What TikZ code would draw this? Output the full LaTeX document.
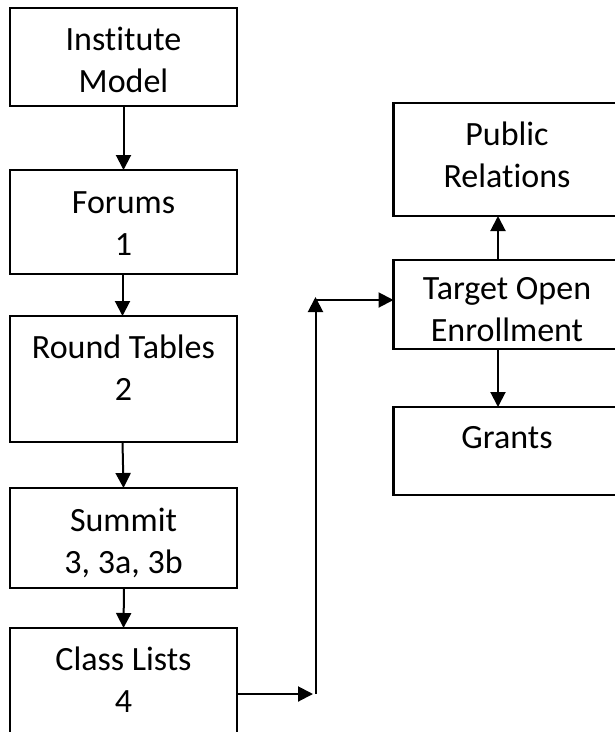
\documentclass[tikz,border=0pt]{standalone}
\usepackage{fontspec}
\setmainfont{Carlito}[Ligatures={NoCommon}]
\usetikzlibrary{arrows.meta}
\begin{document}
\begin{tikzpicture}[x=1pt,y=-1pt,
  box/.style={draw,line width=2.5pt,minimum width=227pt,inner sep=0pt,outer sep=0pt},
  lbl/.style={font=\fontsize{34}{42}\selectfont,align=center,inner sep=0pt,anchor=base},
  arr/.style={line width=2pt,-{Triangle[length=15pt,width=15pt]}}]
\useasboundingbox (0,0) rectangle (615,732);

% left column
\node[box,minimum height=98pt]  (inst)   at (123.5,57)  {};
\node[box,minimum height=104pt] (forums) at (123.5,222) {};
\node[box,minimum height=126pt] (round)  at (123.5,379) {};
\node[box,minimum height=100pt] (summit) at (123.5,538) {};
\node[box,minimum height=132pt] (class)  at (123.5,694) {};

% labels are placed by the baseline of their last line
\node[lbl] (instT)   at (123.5,92)  {Institute\\Model};
\node[lbl] (forumsT) at (123.5,255) {Forums\\1};
\node[lbl] (roundT)  at (123.5,400) {Round Tables\\2};
\node[lbl] (summitT) at (123.5,573) {Summit\\3, 3a, 3b};
\node[lbl] (classT)  at (123.5,712) {Class Lists\\4};

% right column
\node[box,minimum height=113pt] (pr)     at (507,159.5) {};
\node[box,minimum height=89pt]  (target) at (507,304.5) {};
\node[box,minimum height=88pt]  (grants) at (507,451)   {};

\node[lbl] (prT)     at (507,187) {Public\\Relations};
\node[lbl] (targetT) at (507,341) {Target Open\\Enrollment};
\node[lbl] (grantsT) at (507,448) {Grants};

% flow down the left column
\draw[arr] (inst.south)   -- (forums.north);
\draw[arr] ([xshift=-1pt]forums.south) -- ([xshift=-1pt]round.north);
\draw[arr] ([xshift=-1pt]round.south)  -- (summit.north);
\draw[arr] ([xshift=0.5pt]summit.south) -- (class.north);

% link to the right column
\coordinate (elbowIn) at (313,694);
\coordinate (riseBot) at (315.5,694);
\coordinate (riseTop) at (315.5,297);
\coordinate (turn)    at (315.5,300);
\draw[arr] (class.east |- elbowIn) -- (elbowIn);
\draw[arr] (riseBot) -- (riseTop);
\draw[arr] (turn) -- (target.west |- turn);

% branches from the target box
\draw[arr] ([xshift=-9pt]target.north) -- ([xshift=-9pt]pr.south);
\draw[arr] ([xshift=-9pt]target.south) -- ([xshift=-9pt]grants.north);
\end{tikzpicture}
\end{document}
